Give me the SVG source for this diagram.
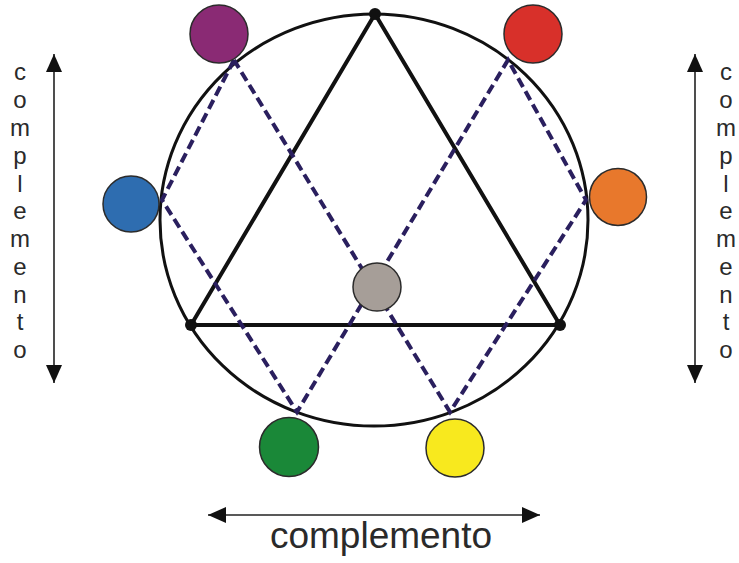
<svg xmlns="http://www.w3.org/2000/svg" width="739" height="563" viewBox="0 0 739 563">
<style>
.dot{stroke:#2b2b2b;stroke-width:1.5}
.dash{fill:none;stroke:#2a1f5e;stroke-width:4;stroke-dasharray:10 5}
.arr{stroke:#222;stroke-width:1.6;fill:none}
.lbl{font-family:"Liberation Sans",Arial,sans-serif;fill:#2a2a2a;text-anchor:middle}
</style>
<defs>
<marker id="ahb" viewBox="0 0 18 16" refX="18" refY="8" markerWidth="18" markerHeight="16" markerUnits="userSpaceOnUse" orient="auto-start-reverse">
<path d="M0,0 L18,8 L0,16 z" fill="#111"/>
</marker>
</defs>
<rect width="739" height="563" fill="#fff"/>
<g id="wheel">
<ellipse cx="374" cy="220" rx="214" ry="206" fill="none" stroke="#111" stroke-width="3"/>
</g>
<g id="connectors">
<polygon points="375,14 191,325 560,325" fill="none" stroke="#111" stroke-width="4" stroke-linejoin="round"/>
<polyline class="dash" points="234,60 162,200 297,412 508,60 586,200 450,412 234,60"/>
<line class="arr" x1="54" y1="54" x2="54" y2="383" marker-start="url(#ahb)" marker-end="url(#ahb)"/>
<line class="arr" x1="695" y1="54" x2="695" y2="383" marker-start="url(#ahb)" marker-end="url(#ahb)"/>
<line class="arr" x1="208" y1="515" x2="540" y2="515" marker-start="url(#ahb)" marker-end="url(#ahb)"/>
</g>
<g id="vertices">
<circle cx="375" cy="14" r="6" fill="#111"/>
<circle cx="191" cy="325" r="6" fill="#111"/>
<circle cx="560" cy="325" r="6" fill="#111"/>
</g>
<g id="purple"><circle class="dot" cx="219" cy="34" r="29" fill="#8a2a74"/></g>
<g id="red"><circle class="dot" cx="533" cy="34" r="29" fill="#d8302a"/></g>
<g id="blue"><circle class="dot" cx="131" cy="204" r="28" fill="#2e6db0"/></g>
<g id="orange"><circle class="dot" cx="618" cy="197" r="28.5" fill="#e8782c"/></g>
<g id="green"><circle class="dot" cx="289" cy="447" r="29.5" fill="#1a8838"/></g>
<g id="yellow"><circle class="dot" cx="455" cy="448" r="29" fill="#f8e91e"/></g>
<g id="gray"><circle class="dot" cx="377" cy="287" r="24" fill="#a69e98"/></g>
<g id="label-left" class="lbl" font-size="24">
<text x="20" y="80">c</text><text x="20" y="108">o</text><text x="20" y="136">m</text><text x="20" y="164">p</text><text x="20" y="192">l</text><text x="20" y="219">e</text><text x="20" y="247">m</text><text x="20" y="275">e</text><text x="20" y="303">n</text><text x="20" y="330">t</text><text x="20" y="358">o</text>
</g>
<g id="label-right" class="lbl" font-size="24">
<text x="726" y="80">c</text><text x="726" y="108">o</text><text x="726" y="136">m</text><text x="726" y="164">p</text><text x="726" y="192">l</text><text x="726" y="219">e</text><text x="726" y="247">m</text><text x="726" y="275">e</text><text x="726" y="303">n</text><text x="726" y="330">t</text><text x="726" y="358">o</text>
</g>
<g id="label-bottom"><text class="lbl" x="381" y="548" font-size="37">complemento</text></g>
</svg>
